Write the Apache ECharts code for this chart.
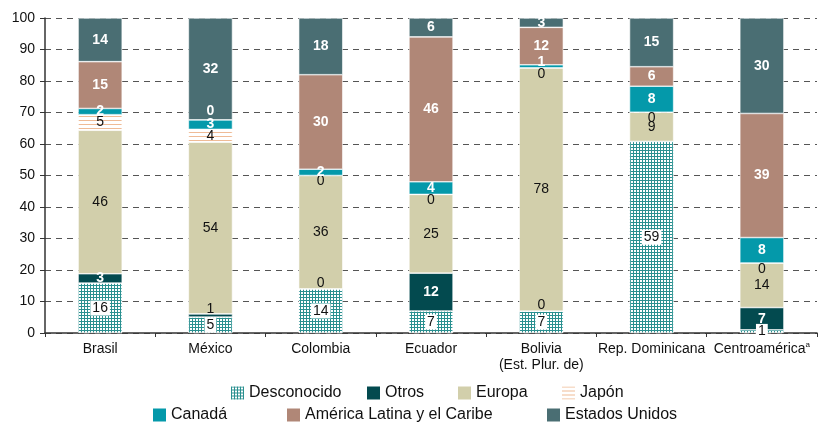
<!DOCTYPE html>
<html>
<head>
<meta charset="utf-8">
<script src="https://cdn.jsdelivr.net/npm/echarts@6/dist/echarts.min.js"></script>
<style>
  html, body { margin: 0; padding: 0; background: #fff; }
  #chart { width: 819px; height: 423px; }
</style>
</head>
<body>
<div id="chart"></div>
<script>
var categories = ['Brasil', 'México', 'Colombia', 'Ecuador', 'Bolivia\n(Est. Plur. de)', 'Rep. Dominicana', 'Centroamérica'];
var desconocido = [16, 5, 14, 7, 7, 59, 1];
var otros = [3, 1, 0, 12, 0, null, 7];
var europa = [46, 54, 36, 25, 78, 9, 14];
var japon = [5, 4, 0, 0, 0, 0, 0];
var canada = [2, 3, 2, 4, 1, 8, 8];
var americaLatina = [15, 0, 30, 46, 12, 6, 39];
var estadosUnidos = [14, 32, 18, 6, 3, 15, 30];
var yTicks = [0, 10, 20, 30, 40, 50, 60, 70, 80, 90, 100];

var font = '"Liberation Sans", Arial, sans-serif';

// hatch fills
function gridPattern() {
    var c = document.createElement('canvas');
    c.width = 3; c.height = 3;
    var g = c.getContext('2d');
    g.fillStyle = '#ffffff'; g.fillRect(0, 0, 3, 3);
    g.fillStyle = '#2a9090';
    g.fillRect(0, 0, 3, 1);
    g.fillRect(0, 0, 1, 3);
    return c;
}
function stripePattern() {
    var c = document.createElement('canvas');
    c.width = 4; c.height = 4;
    var g = c.getContext('2d');
    g.fillStyle = '#ffffff'; g.fillRect(0, 0, 4, 4);
    g.fillStyle = '#efbb96';
    g.fillRect(0, 0, 4, 1);
    return c;
}

// "small" settings apply to labels of values 0 or 1 (placed just beside the thin bar)
var seriesDefs = [
    {name: 'Desconocido', data: desconocido, color: {image: gridPattern(), repeat: 'repeat'}, text: '#111', bold: false, box: true, small: null},
    {name: 'Otros', data: otros, color: '#034a4f', text: '#fff', bold: true, small: {offset: [0, -6], color: '#111', bold: false}},
    {name: 'Europa', data: europa, color: '#d2cfab', text: '#111', bold: false, small: null},
    {name: 'Japón', data: japon, color: {image: stripePattern(), repeat: 'repeat'}, text: '#111', bold: false, small: {offset: [0, 6], color: '#111', bold: false}},
    {name: 'Canadá', data: canada, color: '#0499aa', text: '#fff', bold: true, small: {offset: [0, -4], color: '#fff', bold: true}},
    {name: 'América Latina y el Caribe', data: americaLatina, color: '#b08777', text: '#fff', bold: true, small: {offset: [0, -9], color: '#fff', bold: true}},
    {name: 'Estados Unidos', data: estadosUnidos, color: '#4a6e73', text: '#fff', bold: true, small: null}
];

// column totals, each column is drawn as shares of 100
var totals = categories.map(function (c, i) {
    return seriesDefs.reduce(function (s, d) { return s + (d.data[i] || 0); }, 0);
});

var series = seriesDefs.map(function (d) {
    return {
        name: d.name,
        type: 'bar',
        stack: 'total',
        barWidth: '40%',
        itemStyle: {color: d.color, borderColor: '#fff', borderWidth: 0.6},
        data: d.data.map(function (v, i) {
            if (v === null) return {value: null};
            var item = {value: v / totals[i] * 100, raw: v};
            if (v <= 1 && d.small) {
                item.label = {
                    offset: d.small.offset,
                    color: d.small.color,
                    fontWeight: d.small.bold ? 'bold' : 'normal'
                };
            }
            return item;
        }),
        label: {
            show: true,
            position: 'inside',
            fontFamily: font,
            fontSize: 14,
            fontWeight: d.bold ? 'bold' : 'normal',
            color: d.text,
            backgroundColor: d.box ? '#fff' : 'transparent',
            padding: d.box ? [1, 2, 0, 2] : 0,
            formatter: function (p) { return p.data.raw; }
        },
        emphasis: {disabled: true}
    };
});

var legendPos = [
    {left: 226, top: 380}, {left: 362, top: 380}, {left: 453, top: 380}, {left: 557, top: 380},
    {left: 148, top: 402}, {left: 282, top: 402}, {left: 542, top: 402}
];
var legends = seriesDefs.map(function (d, i) {
    return {
        data: [{name: d.name, icon: 'rect'}],
        left: legendPos[i].left,
        top: legendPos[i].top,
        itemWidth: 13,
        itemHeight: 13,
        itemGap: 5,
        itemStyle: {borderWidth: 0},
        selectedMode: false,
        textStyle: {fontFamily: font, fontSize: 16, color: '#111'}
    };
});

var myChart = echarts.init(document.getElementById('chart'));
var option = {
    animation: false,
    backgroundColor: '#fff',
    grid: {left: 45, right: 2, top: 18, bottom: 90},
    legend: legends,
    xAxis: {
        type: 'category',
        data: categories,
        axisLine: {lineStyle: {color: '#333', width: 1.5}},
        axisTick: {show: true, length: 4, lineStyle: {color: '#333'}},
        axisLabel: {
            interval: 0,
            fontFamily: font, fontSize: 14, color: '#111', margin: 8, lineHeight: 16,
            formatter: function (v) { return v === 'Centroamérica' ? v + '{sup|a}' : v; },
            rich: {sup: {fontFamily: font, fontSize: 8, color: '#111', verticalAlign: 'top', padding: [0, 0, 8, 0]}}
        }
    },
    yAxis: {
        type: 'value',
        min: yTicks[0],
        max: yTicks[yTicks.length - 1],
        interval: 10,
        axisLine: {show: true, lineStyle: {color: '#333', width: 1.5}},
        axisTick: {show: true, length: 5, lineStyle: {color: '#333'}},
        axisLabel: {fontFamily: font, fontSize: 14, color: '#111', margin: 10},
        splitLine: {lineStyle: {color: '#555', type: [6, 5], width: 1}}
    },
    series: series
};
myChart.setOption(option);
</script>
</body>
</html>
